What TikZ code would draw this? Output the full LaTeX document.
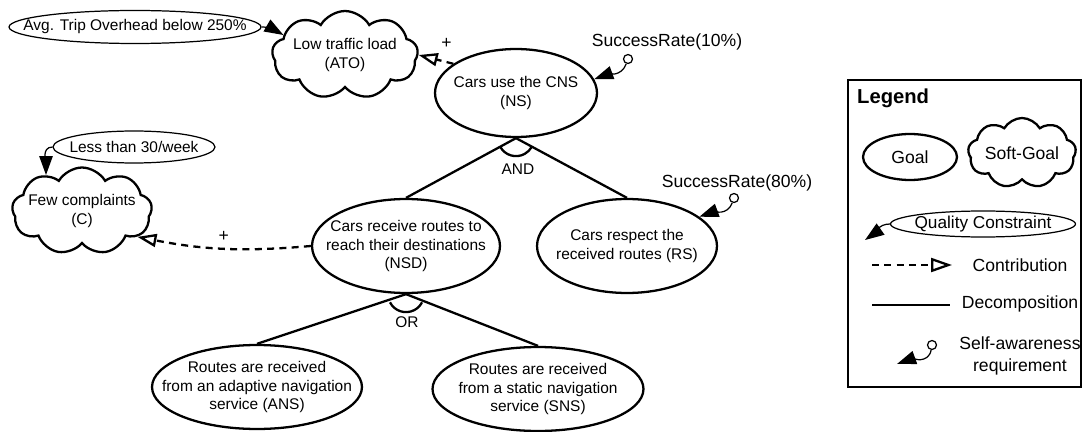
\documentclass[tikz,border=0pt]{standalone}
\usepackage{fontspec}
\setmainfont{Liberation Sans}
\usepackage{tikz}
\usetikzlibrary{arrows.meta,shapes.geometric,shapes.symbols}

\begin{document}
\begin{tikzpicture}[x=0.02cm,y=-0.02cm]
		\useasboundingbox (0,0) rectangle (1084,432);

		% goals
		\begin{scope}[every node/.style={ellipse,draw,line width=1.3pt,align=center,inner xsep=-0.5cm,inner ysep=0pt,font=\fontsize{8.8}{10.5}\selectfont}]
			\node[minimum width=3.24cm,minimum height=1.76cm] (NS) at (516,93) {Cars use the CNS\\(NS)};
			\node[minimum width=3.76cm,minimum height=1.88cm] (NSD) at (406,246) {Cars receive routes to\\reach their destinations\\(NSD)};
			\node[minimum width=3.6cm,minimum height=1.88cm] (RS) at (627,246) {Cars respect the\\received routes (RS)};
			\node[minimum width=4.2cm,minimum height=1.68cm] (ANS) at (257,387) {Routes are received\\from an adaptive navigation\\service (ANS)};
			\node[minimum width=4.22cm,minimum height=1.68cm] (SNS) at (538,389) {Routes are received\\from a static navigation\\service (SNS)};
			\node[minimum width=1.88cm,minimum height=0.92cm,font=\fontsize{10}{12}\selectfont] (lgGoal) at (910,157) {Goal};
		\end{scope}

		% soft-goals
		\begin{scope}[every node/.style={cloud,cloud puffs=9,cloud puff arc=120,cloud ignores aspect,draw,line width=1.3pt,align=center,inner xsep=-0.4cm,inner ysep=0pt,font=\fontsize{8.8}{10.5}\selectfont}]
			\node[minimum width=2.92cm,minimum height=1.76cm] (ATO) at (345,55) {Low traffic load\\(ATO)};
			\node[minimum width=2.8cm,minimum height=1.74cm] (C) at (82,211) {Few complaints\\(C)};
			\node[minimum width=2.16cm,minimum height=1.4cm,font=\fontsize{10}{12}\selectfont] (lgSoft) at (1022,153) {Soft-Goal};
		\end{scope}

		% quality constraints
		\begin{scope}[every node/.style={ellipse,draw,line width=0.7pt,inner xsep=-0.5cm,inner ysep=0pt,font=\fontsize{8.8}{10.5}\selectfont}]
			\node[minimum width=5.04cm,minimum height=0.66cm] (qcATO) at (135,27) {Avg. Trip Overhead below 250\%};
			\node[minimum width=3.24cm,minimum height=0.64cm] (qcC) at (134,147) {Less than 30/week};
			\node[minimum width=3.7cm,minimum height=0.52cm,font=\fontsize{9.8}{11}\selectfont] (lgQC) at (983,224) {Quality Constraint};
		\end{scope}

		% self-awareness requirements
		\begin{scope}[every node/.style={font=\fontsize{10}{12.5}\selectfont}]
			\node (sr10) at (667,42) {SuccessRate(10\%)};
			\node (sr80) at (737,183) {SuccessRate(80\%)};
		\end{scope}
		\begin{scope}[every node/.style={circle,draw,line width=0.7pt,minimum size=0.18cm,inner sep=0pt}]
			\node (sr10c) at (628,59) {};
			\node (sr80c) at (734,198) {};
			\node (lgSAc) at (932,345) {};
		\end{scope}

		% decomposition
		\begin{scope}[every edge/.style={draw=black,line width=1.3pt}]
			\path (NS.south) edge (NSD.north);
			\path (NS.south) edge (RS.north);
			\path (NSD.south) edge (ANS.north);
			\path (NSD.south) edge (SNS.north);
		\end{scope}
		\draw[line width=1.3pt] (NS.south) ++(-151:0.36cm) arc[start angle=-151,end angle=-29,radius=0.36cm];
		\draw[line width=1.3pt] (NSD.south) ++(-153:0.36cm) arc[start angle=-153,end angle=-27,radius=0.36cm];
		\node[font=\fontsize{8.8}{10.5}\selectfont] (and) at (518,169) {AND};
		\node[font=\fontsize{8.8}{10.5}\selectfont] (or) at (407,322) {OR};

		% contributions
		\begin{scope}[>={Triangle[open,length=0.38cm,width=0.26cm]},
					every node/.style={font=\fontsize{10}{12}\selectfont},
					every edge/.style={draw=black,line width=1.3pt,dash pattern=on 4pt off 3pt}]
			\path [->] (NS.155) edge node[pos=0.2,above=4pt] {+} (ATO.east);
			\path [->] (NSD.west) edge[bend left=8] node[above=0pt] {+} (C.-25);
		\end{scope}

		% quality constraint and self-awareness links
		\begin{scope}[>={Triangle[length=0.38cm,width=0.27cm]},
					every edge/.style={draw=black,line width=0.7pt}]
			\path [->] (qcATO.east) edge[out=0,in=150] (ATO.162);
			\path [->] (qcC.west) edge[out=180,in=90] (C.135);
			\path [->] (sr10c) edge[out=-110,in=20] (NS.10);
			\path [->] (sr80c) edge[out=-110,in=20] (RS.22);
		\end{scope}

		% legend
		\draw[line width=1.3pt] (848,80) rectangle (1081,387);
		\node[anchor=west,font=\fontsize{11.5}{13}\selectfont\bfseries] (legend) at (851,98) {Legend};
		\coordinate (lgQCtip) at (865,240);
		\coordinate (lgCa) at (872,265);
		\coordinate (lgCb) at (952,265);
		\coordinate (lgDa) at (872,305);
		\coordinate (lgDb) at (950,305);
		\coordinate (lgSAtip) at (897,364);
		\begin{scope}[every node/.style={font=\fontsize{10}{12.5}\selectfont,align=center}]
			\node (lgContrib) at (1020,265) {Contribution};
			\node (lgDecomp) at (1020,304) {Decomposition};
			\node (lgSA) at (1020,356) {Self-awareness\\requirement};
		\end{scope}
		\begin{scope}[>={Triangle[length=0.38cm,width=0.27cm]},
					every edge/.style={draw=black,line width=0.7pt}]
			\path [->] (lgQC.west) edge[out=180,in=35] (lgQCtip);
			\path [->] (lgSAc) edge[out=-100,in=20] (lgSAtip);
		\end{scope}
		\path [->,>={Triangle[open,length=0.42cm,width=0.28cm]}] (lgCa) edge[draw=black,line width=1.3pt,dash pattern=on 4pt off 3pt] (lgCb);
		\path (lgDa) edge[draw=black,line width=1.3pt] (lgDb);
	\end{tikzpicture}
\end{document}
